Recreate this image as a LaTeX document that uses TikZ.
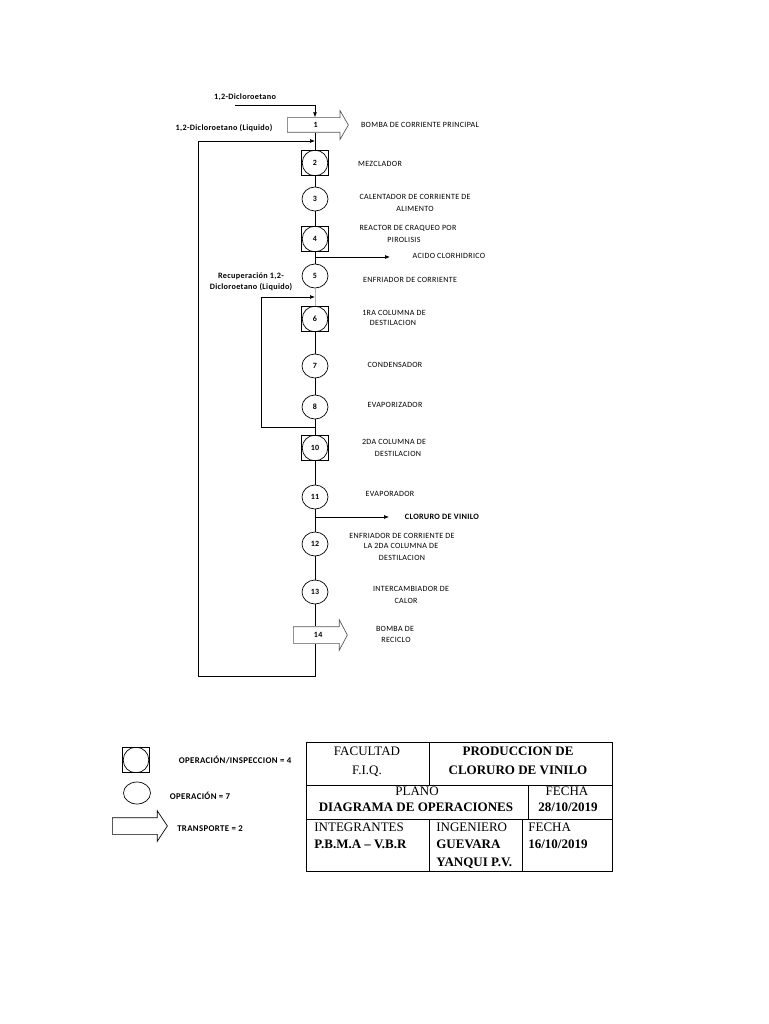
\documentclass[tikz,border=0pt]{standalone}
\usepackage{fontspec}
\setmainfont{Liberation Serif}
\newfontfamily\lab[LetterSpace=4]{Carlito}
\usetikzlibrary{arrows.meta, positioning, shapes.arrows, shapes.geometric}

\begin{document}
\begin{tikzpicture}[x=1pt, y=-1pt, line width=0.7pt,
    flow/.style={-{Latex[length=5pt,width=4pt]}},
    desc/.style={font=\lab\fontsize{8}{9}\selectfont, inner sep=0pt},
    tag/.style={font=\lab\bfseries\fontsize{8.2}{9}\selectfont, inner sep=0pt},
    key/.style={font=\lab\bfseries\fontsize{8.8}{10}\selectfont, inner sep=0pt},
    oper/.style={ellipse, draw, minimum width=26pt, minimum height=24pt, inner sep=0pt,
        font=\lab\bfseries\fontsize{8}{9}\selectfont},
    opinsp/.style={rectangle, draw, minimum width=27pt, minimum height=25pt, inner sep=0pt,
        font=\lab\bfseries\fontsize{8}{9}\selectfont,
        path picture={\draw (path picture bounding box.center) circle [radius=12.8pt];}},
    tport/.style={single arrow, draw=black!65, anchor=tail, single arrow head indent=0pt,
        text height=5pt, text depth=0pt, inner xsep=2pt,
        font=\lab\bfseries\fontsize{8}{9}\selectfont},
    cell/.style={font=\fontsize{13}{15}\selectfont, inner sep=0pt, anchor=base},
    cellb/.style={font=\bfseries\fontsize{13}{15}\selectfont, inner sep=0pt, anchor=base}]

\fill[white] (0,0) rectangle (768,1024);
\useasboundingbox (0,0) rectangle (768,1024);

% proceso
\node[tport, minimum height=61pt, inner ysep=4.5pt, single arrow head extend=7pt,
    single arrow tip angle=120] (n1) at (287,125) {1};
\node[opinsp] (n2) at (315,163) {2};
\node[oper] (n3) at (315,199) {3};
\node[opinsp] (n4) at (315,239) {4};
\node[oper] (n5) at (315,276) {5};
\node[opinsp] (n6) at (315,319) {6};
\node[oper] (n7) at (315,366) {7};
\node[oper] (n8) at (315,407) {8};
\node[opinsp] (n10) at (315,448) {10};
\node[oper] (n11) at (315,497) {11};
\node[oper] (n12) at (315,544) {12};
\node[oper] (n13) at (315,592) {13};
\node[tport, minimum height=54pt, inner ysep=5.5pt, single arrow head extend=7pt,
    single arrow tip angle=124] (n14) at (293,635) {14};

% descripciones
\node[desc] (d1) at (420,125) {BOMBA DE CORRIENTE PRINCIPAL};
\node[desc] (d2) at (380,164) {MEZCLADOR};
\node[desc] (d3) at (415,197) {CALENTADOR DE CORRIENTE DE};
\node[desc] (d3b) at (415,209) {ALIMENTO};
\node[desc] (d4) at (408,228) {REACTOR DE CRAQUEO POR};
\node[desc] (d4b) at (404,240) {PIROLISIS};
\node[desc] (d5) at (410,280) {ENFRIADOR DE CORRIENTE};
\node[desc] (d6) at (394,313) {1RA COLUMNA DE};
\node[desc] (d6b) at (393,323) {DESTILACION};
\node[desc] (d7) at (395,365) {CONDENSADOR};
\node[desc] (d8) at (395,405) {EVAPORIZADOR};
\node[desc] (d10) at (394,442) {2DA COLUMNA DE};
\node[desc] (d10b) at (398,454) {DESTILACION};
\node[desc] (d11) at (390,494) {EVAPORADOR};
\node[desc] (d12) at (402,536) {ENFRIADOR DE CORRIENTE DE};
\node[desc] (d12b) at (401,546) {LA 2DA COLUMNA DE};
\node[desc] (d12c) at (402,558) {DESTILACION};
\node[desc] (d13) at (411,589) {INTERCAMBIADOR DE};
\node[desc] (d13b) at (406,601) {CALOR};
\node[desc] (d14) at (395,629) {BOMBA DE};
\node[desc] (d14b) at (396,640) {RECICLO};
\node[desc] (hcl) at (449,256) {ACIDO CLORHIDRICO};
\node[tag] (cv) at (442,517) {CLORURO DE VINILO};

% corrientes
\node[tag] (feed) at (245,97) {1,2-Dicloroetano};
\node[tag] (liq) at (224,128) {1,2-Dicloroetano (Liquido)};
\node[tag, align=center] (recu) at (251,282) {Recuperación 1,2-\\[2pt]Dicloroetano (Liquido)};
\coordinate (feedin) at (235,105);
\coordinate (j2) at (315,141);
\coordinate (j5) at (315,257);
\coordinate (j6) at (315,297);
\coordinate (j10) at (315,427);
\coordinate (j11) at (315,517);
\coordinate (recR) at (261,427);
\coordinate (recL) at (198,676);
\coordinate (hclend) at (390,257);
\coordinate (cvend) at (389,517);

\draw[flow] (feedin) -| (n2 |- n1.90);
\draw (n2 |- n1.270) -- (n2);
\foreach \a/\b in {2/3,3/4,4/5,6/7,7/8,8/10,10/11,11/12,12/13}
    \draw (n\a) -- (n\b);
\draw[black!30] (n5) -- (n6);
\draw (n13) -- (n13 |- n14.90);
\draw[flow] (n13 |- n14.270) |- (recL) |- (j2);
\draw[flow] (j10) -- (recR) |- (j6);
\draw[flow] (j5) -- (hclend);
\draw[flow] (j11) -- (cvend);

% leyenda
\node[opinsp] (lg1) at (136,760) {};
\node[oper, minimum width=27pt, minimum height=22pt] (lg2) at (137,793) {};
\node[tport, minimum height=55pt, inner ysep=5.5pt, single arrow head extend=7pt,
    single arrow tip angle=113, draw=black] (lg3) at (112,826) {};
\node[key] (lt1) at (235,760) {OPERACIÓN/INSPECCION = 4};
\node[key] (lt2) at (200,796) {OPERACIÓN = 7};
\node[key] (lt3) at (210,829) {TRANSPORTE = 2};

% rotulo
\draw (306,742) rectangle (612,871);
\draw (306,785) -- (612,785);
\draw (306,819) -- (612,819);
\draw (429,742) -- (429,785);
\draw (528,785) -- (528,819);
\draw (429,819) -- (429,871);
\draw (522,819) -- (522,871);
\node[cell] (fac) at (367,755.3) {FACULTAD};
\node[cell] (fiq) at (367,774.3) {F.I.Q.};
\node[cellb] (prod) at (518,755.3) {PRODUCCION DE};
\node[cellb] (cvt) at (518,774.3) {CLORURO DE VINILO};
\node[cell] (plano) at (417,795.3) {PLANO};
\node[cellb] (diag) at (416,811.8) {DIAGRAMA DE OPERACIONES};
\node[cell] (fecha1) at (567,795.3) {FECHA};
\node[cellb] (f1) at (568,811.8) {28/10/2019};
\node[cell, anchor=base west] (integ) at (314,831.8) {INTEGRANTES};
\node[cellb, anchor=base west] (nombres) at (314,848.8) {P.B.M.A – V.B.R};
\node[cell, anchor=base west] (ing) at (436,831.8) {INGENIERO};
\node[cellb, anchor=base west] (guev) at (436,848.8) {GUEVARA};
\node[cellb, anchor=base west] (yanq) at (436,866.8) {YANQUI P.V.};
\node[cell, anchor=base west] (fecha2) at (528,831.8) {FECHA};
\node[cellb, anchor=base west] (f2) at (528,848.8) {16/10/2019};
\end{tikzpicture}
\end{document}
